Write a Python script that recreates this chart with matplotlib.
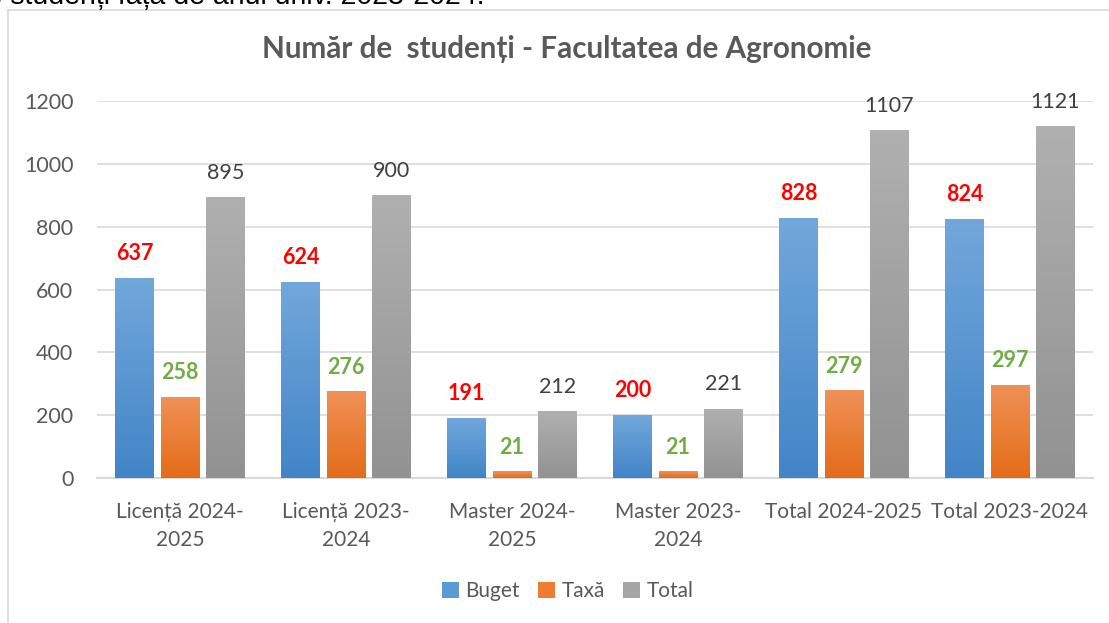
import numpy as np
import matplotlib
matplotlib.use('agg')
import matplotlib.pyplot as plt
from matplotlib.patches import Patch
from matplotlib.colors import LinearSegmentedColormap

categories = ['Licență 2024-\n2025', 'Licență 2023-\n2024', 'Master 2024-\n2025',
              'Master 2023-\n2024', 'Total 2024-2025', 'Total 2023-2024']
buget = [637, 624, 191, 200, 828, 824]
taxa = [258, 276, 21, 21, 279, 297]
total = [895, 900, 212, 221, 1107, 1121]

series = [
    ('Buget', buget, '#5B9BD5', ('#72A7DB', '#4285C7'), '#FF0000', 'bold'),
    ('Taxă', taxa, '#ED7D31', ('#F09157', '#E36C18'), '#70AD47', 'bold'),
    ('Total', total, '#A5A5A5', ('#B0B0B0', '#929292'), '#404040', 'normal'),
]

plt.rcParams['font.family'] = ['Lato', 'DejaVu Sans']

fig = plt.figure(figsize=(11.09, 6.23), dpi=100)
ax = fig.add_axes([0.0875, 0.2327, 0.898, 0.6052])

# chart frame lines (partly cut off in the source)
fig.add_artist(plt.Line2D([8 / 1109, 8 / 1109], [0, 1 - 10 / 623], color='#D9D9D9', lw=1.2))
fig.add_artist(plt.Line2D([8 / 1109, 1], [1 - 10 / 623, 1 - 10 / 623], color='#D9D9D9', lw=1.2))

# cut-off document text above the chart
fig.text(485 / 1109, 1 - 4 / 623, 'numărul de studenți față de anul univ. 2023-2024.',
         ha='right', va='baseline', fontsize=20.5, color='black',
         family=['Liberation Sans', 'DejaVu Sans'])

x = np.arange(len(categories))
w = 0.23
step = 0.274
grad = np.linspace(0, 1, 100).reshape(-1, 1)

for i, (name, vals, col, (ctop, cbot), lcol, lw) in enumerate(series):
    pos = x + (i - 1) * step
    bars = ax.bar(pos, vals, width=w, color=col, zorder=2)
    cmap = LinearSegmentedColormap.from_list(name, [cbot, ctop])
    for b, v in zip(bars, vals):
        bx = b.get_x()
        im = ax.imshow(grad, extent=[bx, bx + w, 0, v], origin='lower', cmap=cmap,
                       aspect='auto', zorder=3)
        im.set_clip_path(b)
        ax.annotate(str(v), (bx + w / 2, v), xytext=(0, 17.5), textcoords='offset points',
                    ha='center', va='center', fontsize=15.5, color=lcol, fontweight=lw,
                    annotation_clip=False)

ax.set_xlim(-0.5, len(categories) - 0.5)
ax.set_ylim(0, 1200)
ax.set_yticks(range(0, 1201, 200))
ax.set_xticks(x)
ax.set_xticklabels(categories)
ax.yaxis.grid(True, color='#D9D9D9', lw=1.2, zorder=0)
ax.set_axisbelow(True)
for s in ['top', 'right', 'left']:
    ax.spines[s].set_visible(False)
ax.spines['bottom'].set_color('#D9D9D9')
ax.spines['bottom'].set_linewidth(1.5)
ax.tick_params(length=0, colors='#595959')
ax.tick_params(axis='x', labelsize=15, pad=17)
ax.tick_params(axis='y', labelsize=15.5, pad=17)
for t in ax.get_xticklabels():
    t.set_linespacing(1.5)

fig.text(0.511, 1 - 49 / 623, 'Număr de  studenți - Facultatea de Agronomie', ha='center',
         va='center', fontsize=21.3, fontweight='bold', color='#595959')

handles = [Patch(facecolor=c, label=n) for n, _, c, _, _, _ in series]
fig.legend(handles=handles, loc='center', bbox_to_anchor=(0.512, 1 - 591 / 623), ncol=3,
           frameon=False, fontsize=15, handlelength=0.8, handleheight=0.8,
           handletextpad=0.3, columnspacing=0.9, labelcolor='#595959')

fig.savefig('out.png', dpi=100)
